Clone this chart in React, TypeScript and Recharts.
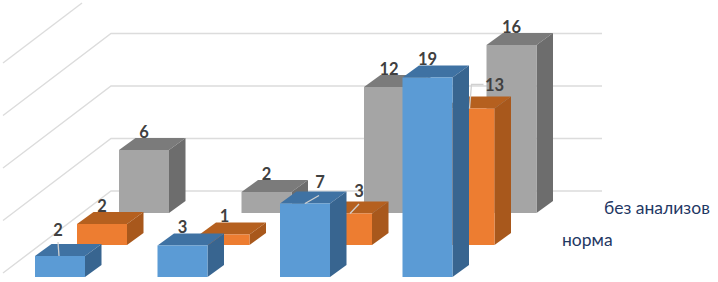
import React from "react";
import { BarChart, Bar, XAxis, YAxis, ReferenceLine, LabelList } from "recharts";

const categories = ["A", "B", "C", "D"];
const frontValues = [2, 3, 7, 19];
const normaValues = [2, 1, 3, 13];
const bezAnalizovValues = [6, 2, 12, 16];
const gridValues = [0, 5, 10, 15, 20];
const normaName = "норма";
const bezAnalizovName = "без анализов";

const data = categories.map((category, i) => ({
  category,
  front: frontValues[i],
  norma: normaValues[i],
  bez: bezAnalizovValues[i],
}));

const FONT = "Lato, 'Open Sans', sans-serif";
const DX = 16.5;
const DY = 12;

type Palette = { face: string; top: string; side: string };

const make3D = (lift: number, c: Palette) => (p: any) => {
  const x = p.x, w = p.width, t = p.y - lift, b = p.y + p.height - lift;
  return (
    <g>
      <polygon points={`${x},${t} ${x + DX},${t - DY} ${x + w + DX},${t - DY} ${x + w},${t}`} fill={c.top} />
      <polygon points={`${x + w},${t} ${x + w + DX},${t - DY} ${x + w + DX},${b - DY} ${x + w},${b}`} fill={c.side} />
      <rect x={x} y={t} width={w} height={b - t} fill={c.face} />
    </g>
  );
};

type Note = { dx?: number; dy?: number; leader?: (cx: number, top: number, lx: number, ly: number) => string };

const makeLabel = (lift: number, notes: Record<number, Note>) => (p: any) => {
  const n = notes[p.index] || {};
  const cx = p.x + p.width / 2;
  const top = p.y - lift;
  const lx = cx + (n.dx || 0);
  const ly = top - 18.5 + (n.dy || 0);
  return (
    <g>
      {n.leader && <path d={n.leader(cx, top, lx, ly)} fill="none" stroke="#d0d0d0" strokeWidth={1.3} />}
      <text x={lx} y={ly} textAnchor="middle" dominantBaseline="central" fontFamily={FONT} fontSize={16.5} fontWeight={700} fill="#404040">
        {p.value}
      </text>
    </g>
  );
};

const gridShape = (p: any) => {
  const Y = p.y1;
  const sx = 3, sy = Y - 4, ex = 111, ey = Y - 86, rx = 602;
  if (ey < 3) {
    const k = (sy - 3) / (sy - ey);
    return <line x1={sx} y1={sy} x2={sx + (ex - sx) * k} y2={3} stroke="#dcdcdc" strokeWidth={1.4} />;
  }
  return <polyline points={`${sx},${sy} ${ex},${ey} ${rx},${ey}`} fill="none" stroke="#dcdcdc" strokeWidth={1.4} />;
};

const seriesLabel = (left: number, top: number, text: string) => (
  <div style={{ position: "absolute", left, top, fontFamily: FONT, fontSize: 17.5, lineHeight: "20px", color: "#1f3864", whiteSpace: "nowrap" }}>
    {text}
  </div>
);

export default function App() {
  return (
    <div style={{ position: "absolute", left: 0, top: 0, width: 718, height: 282, background: "#fff", overflow: "hidden" }}>
      <BarChart
        width={718}
        height={282}
        data={data}
        margin={{ top: 67, right: 187, bottom: 5, left: 41 }}
        barSize={50}
        barGap={-92}
      >
        <XAxis dataKey="category" hide />
        <YAxis hide domain={[0, 20]} />
        {gridValues.map((v) => (
          <ReferenceLine key={v} y={v} shape={gridShape} ifOverflow="visible" zIndex={-50} />
        ))}
        <Bar dataKey="bez" name={bezAnalizovName} isAnimationActive={false}
          shape={make3D(64, { face: "#a5a5a5", top: "#7b7b7b", side: "#6d6d6d" })}>
          <LabelList dataKey="bez" content={makeLabel(64, {})} />
        </Bar>
        <Bar dataKey="norma" name={normaName} isAnimationActive={false}
          shape={make3D(32, { face: "#ed7d31", top: "#b5601f", side: "#a8581c" })}>
          <LabelList dataKey="norma" content={makeLabel(32, {
            2: { dx: 12, dy: -4, leader: (cx, t, lx, ly) => `M${cx + 3},${t} L${lx},${ly + 13}` },
            3: { dx: 25, dy: -5.5, leader: (cx, t, lx, ly) => `M${cx},${t} L${cx + 2},${ly} L${lx - 11},${ly}` },
          })} />
        </Bar>
        <Bar dataKey="front" name="ряд" isAnimationActive={false}
          shape={make3D(0, { face: "#5b9bd5", top: "#3f72a3", side: "#386590" })}>
          <LabelList dataKey="front" content={makeLabel(0, {
            0: { dx: -2, dy: -7.5, leader: (cx, t, lx, ly) => `M${lx + 1},${t} L${lx},${ly + 12}` },
            2: { dx: 15, dy: -3.5, leader: (cx, t, lx, ly) => `M${cx},${t} L${lx - 1},${ly + 14}` },
          })} />
        </Bar>
      </BarChart>
      {seriesLabel(604, 198, bezAnalizovName)}
      {seriesLabel(562, 230, normaName)}
    </div>
  );
}
